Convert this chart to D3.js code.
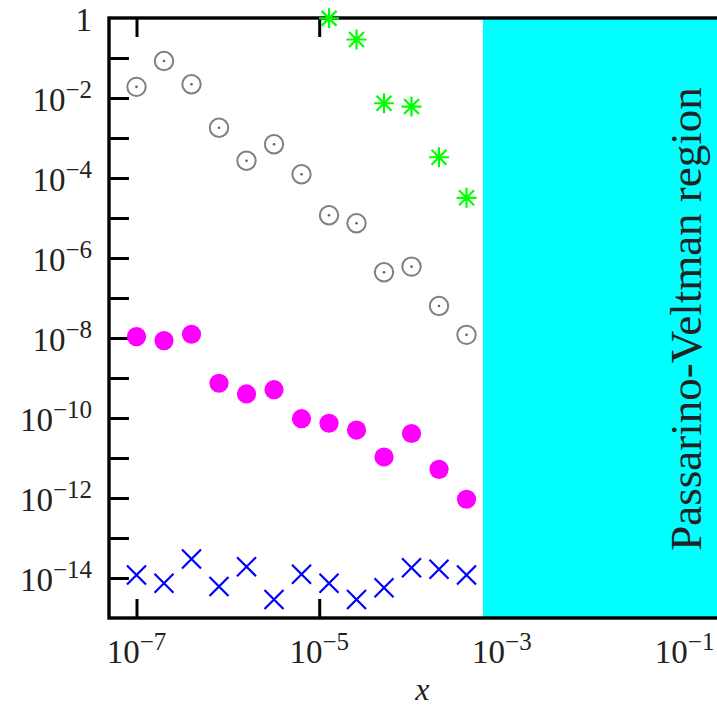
<!DOCTYPE html>
<html lang="en">
<head>
<meta charset="utf-8">
<title>Passarino-Veltman region</title>
<script src="https://cdnjs.cloudflare.com/ajax/libs/d3/7.8.5/d3.min.js"></script>
<style>
  body { margin: 0; background: #fff; }
  text { font-family: "Liberation Serif", "DejaVu Serif", serif; fill: #222; }
</style>
</head>
<body>
<div id="chart"></div>
<script>

// x positions of the runs
var xs = [1e-7, 2e-7, 4e-7, 8e-7, 1.6e-6, 3.2e-6, 6.4e-6, 1.28e-5, 2.56e-5, 5.12e-5, 1.024e-4, 2.048e-4, 4.096e-4];

// gray open circles with dot
var grayVals = [1.9e-2, 8.4e-2, 2.2e-2, 1.8e-3, 2.7e-4, 7.0e-4, 1.24e-4, 1.17e-5, 7.4e-6, 4.4e-7, 6.1e-7, 6.3e-8, 1.2e-8];
// green asterisks (first ones are off the top of the plot)
var greenVals = [null, null, null, null, null, null, null, 0.98, 0.29, 7.4e-3, 6.1e-3, 3.3e-4, 3.2e-5];
// magenta filled circles
var magentaVals = [1.08e-8, 8.6e-9, 1.24e-8, 7.4e-10, 4.0e-10, 5.1e-10, 9.6e-11, 7.4e-11, 5.0e-11, 1.06e-11, 4.1e-11, 5.2e-12, 9.3e-13];
// blue crosses
var blueVals = [1.19e-14, 7.4e-15, 3.0e-14, 6.1e-15, 1.92e-14, 2.9e-15, 1.24e-14, 7.4e-15, 2.9e-15, 5.7e-15, 1.81e-14, 1.65e-14, 1.19e-14];

var xDomain = [5e-8, 1];
var yDomain = [1e-15, 1];
var pvStart = 6.2e-4;

var xTickExps = [-7, -5, -3, -1];
var yTickExps = [-1, -2, -3, -4, -5, -6, -7, -8, -9, -10, -11, -12, -13, -14];
var yLabelExps = [0, -2, -4, -6, -8, -10, -12, -14];

var margin = { top: 18, left: 109 };
var width = 667, height = 600;

var x = d3.scaleLog().domain(xDomain).range([0, width]);
var y = d3.scaleLog().domain(yDomain).range([height, 0]);

var svg = d3.select("#chart").append("svg")
    .attr("width", 717)
    .attr("height", 706)
    .append("g")
    .attr("transform", "translate(" + margin.left + "," + margin.top + ")");

// inward x ticks (bottom and top), drawn under the cyan band
var xb = svg.append("g")
    .attr("transform", "translate(0," + height + ")")
    .call(d3.axisBottom(x).tickValues(xTickExps.map(function (e) { return Math.pow(10, e); }))
        .tickSize(-19).tickSizeOuter(0).tickFormat(""));
var xt = svg.append("g")
    .call(d3.axisTop(x).tickValues(xTickExps.map(function (e) { return Math.pow(10, e); }))
        .tickSize(-19).tickSizeOuter(0).tickFormat(""));
[xb, xt].forEach(function (g) {
  g.select(".domain").remove();
  g.selectAll(".tick line").attr("stroke", "#000").attr("stroke-width", 3);
});

// Passarino-Veltman band
svg.append("rect")
    .attr("x", x(pvStart))
    .attr("y", 0)
    .attr("width", x(xDomain[1]) - x(pvStart))
    .attr("height", height)
    .attr("fill", "#00ffff");

// y ticks
var yl = svg.append("g")
    .call(d3.axisLeft(y).tickValues(yTickExps.map(function (e) { return Math.pow(10, e); }))
        .tickSize(-20).tickSizeOuter(0).tickFormat(""));
yl.select(".domain").remove();
yl.selectAll(".tick line").attr("stroke", "#000").attr("stroke-width", 3);

// frame
svg.append("rect")
    .attr("x", 0).attr("y", 0)
    .attr("width", width).attr("height", height)
    .attr("fill", "none")
    .attr("stroke", "#000")
    .attr("stroke-width", 3.4);

// y labels
yLabelExps.forEach(function (e) {
  var t = svg.append("text")
      .attr("x", -17)
      .attr("y", y(Math.pow(10, e)) + 13)
      .attr("text-anchor", "end")
      .style("font-size", "33px");
  if (e === 0) {
    t.text("1");
  } else {
    t.append("tspan").text("10");
    t.append("tspan").attr("dy", -13).style("font-size", "25px").text("\u2212" + (-e));
  }
});

// x labels
xTickExps.forEach(function (e) {
  var t = svg.append("text")
      .attr("x", x(Math.pow(10, e)))
      .attr("y", height + 45)
      .attr("text-anchor", "middle")
      .style("font-size", "33px");
  t.append("tspan").text("10");
  t.append("tspan").attr("dy", -13).style("font-size", "25px").text("\u2212" + (-e));
});

svg.append("text")
    .attr("x", x(4.5e-4) - 48)
    .attr("y", height + 82)
    .attr("text-anchor", "middle")
    .style("font-size", "32px")
    .style("font-style", "italic")
    .text("x");

svg.append("text")
    .attr("transform", "translate(" + (701 - margin.left) + "," + (height / 2 + 1) + ") rotate(-90)")
    .attr("text-anchor", "middle")
    .style("font-size", "45px")
    .text("Passarino-Veltman region");

// gray circles
var grayPts = xs.map(function (d, i) { return { x: d, y: grayVals[i] }; });
svg.selectAll(".gray")
    .data(grayPts)
    .enter().append("circle")
    .attr("class", "gray")
    .attr("cx", function (d) { return x(d.x); })
    .attr("cy", function (d) { return y(d.y); })
    .attr("r", 9.2)
    .attr("fill", "none")
    .attr("stroke", "#808080")
    .attr("stroke-width", 2);
svg.selectAll(".graydot")
    .data(grayPts)
    .enter().append("circle")
    .attr("class", "graydot")
    .attr("cx", function (d) { return x(d.x); })
    .attr("cy", function (d) { return y(d.y); })
    .attr("r", 1.3)
    .attr("fill", "#606060");

// magenta dots
svg.selectAll(".mag")
    .data(xs.map(function (d, i) { return { x: d, y: magentaVals[i] }; }))
    .enter().append("circle")
    .attr("class", "mag")
    .attr("cx", function (d) { return x(d.x); })
    .attr("cy", function (d) { return y(d.y); })
    .attr("r", 9.6)
    .attr("fill", "#ff00ff");

// blue crosses
var cr = 9.5;
svg.selectAll(".blue")
    .data(xs.map(function (d, i) { return { x: d, y: blueVals[i] }; }))
    .enter().append("path")
    .attr("class", "blue")
    .attr("transform", function (d) { return "translate(" + x(d.x) + "," + y(d.y) + ")"; })
    .attr("d", "M" + -cr + "," + -cr + "L" + cr + "," + cr + "M" + -cr + "," + cr + "L" + cr + "," + -cr)
    .attr("fill", "none")
    .attr("stroke", "#0000ff")
    .attr("stroke-width", 2.2);

// green asterisks
var ar = 10, ad = 7.5;
svg.selectAll(".green")
    .data(xs.map(function (d, i) { return { x: d, y: greenVals[i] }; })
        .filter(function (d) { return d.y !== null; }))
    .enter().append("path")
    .attr("class", "green")
    .attr("transform", function (d) { return "translate(" + x(d.x) + "," + y(d.y) + ")"; })
    .attr("d", "M0," + -ar + "V" + ar + "M" + -ar + ",0H" + ar +
        "M" + -ad + "," + -ad + "L" + ad + "," + ad + "M" + -ad + "," + ad + "L" + ad + "," + -ad)
    .attr("fill", "none")
    .attr("stroke", "#00ff00")
    .attr("stroke-width", 2.2);
</script>
</body>
</html>
